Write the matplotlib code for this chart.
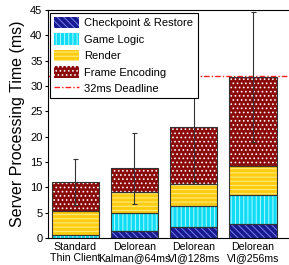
import matplotlib
matplotlib.use("Agg")
import matplotlib.pyplot as plt
import numpy as np
from matplotlib.patches import Patch
from matplotlib.lines import Line2D

plt.rcParams['font.family'] = ['Liberation Sans', 'DejaVu Sans']
plt.rcParams['hatch.linewidth'] = 0.7

categories = ["Standard\nThin Client", "Delorean\nKalman@64ms", "Delorean\nVI@128ms", "Delorean\nVI@256ms"]
checkpoint = [0.0, 1.4, 2.2, 2.7]
game_logic = [0.6, 3.6, 4.1, 5.8]
render = [4.8, 4.0, 4.3, 5.7]
frame_enc = [5.6, 4.8, 11.4, 17.6]
err = [4.5, 7.0, 10.9, 12.8]
deadline = 32

series = [("Checkpoint & Restore", checkpoint, "#1a1a90", "\\\\\\\\\\", (0.55, 0.6, 1.0, 0.8)),
          ("Game Logic", game_logic, "#10dcf5", "||||", (0.85, 1.0, 1.0, 0.8)),
          ("Render", render, "#ffcc10", "----", (1.0, 0.95, 0.6, 0.9)),
          ("Frame Encoding", frame_enc, "#8b0a0a", "....", (1.0, 1.0, 1.0, 0.95))]

W, H = 289, 265
fig = plt.figure(figsize=(W/100, H/100), dpi=100)
ax = fig.add_axes([48/W, 27/H, 250/W, 228/H])
x = np.arange(1, len(categories) + 1)
w = 0.8
bottom = np.zeros(len(x))
handles = []
for name, vals, col, hat, hcol in series:
    vals = np.array(vals)
    ax.bar(x, vals, w, bottom=bottom, color=col, edgecolor=hcol, hatch=hat, linewidth=0, zorder=2)
    ax.bar(x, vals, w, bottom=bottom, fill=False, edgecolor='#333333', linewidth=0.8, zorder=3)
    bottom = bottom + vals
    handles.append(Patch(facecolor=col, edgecolor=hcol, hatch=hat, linewidth=0))
totals = bottom
ax.errorbar(x, totals, yerr=err, fmt='none', ecolor='#333333', elinewidth=0.8, capsize=1.8, capthick=0.8, zorder=4)
ax.axhline(deadline, color='#ff2020', linestyle=(0, (4, 1.5, 1, 1.5)), linewidth=1.0, zorder=1)
handles.append(Line2D([], [], color='#ff2020', linestyle=(0, (4, 1.5, 1, 1.5)), linewidth=1.0))

ax.set_xlim(0.54, 4.76)
ax.set_ylim(0, 45)
ax.set_yticks(range(0, 46, 5))
ax.set_xticks(x)
ax.set_xticklabels(categories, fontsize=7.6, linespacing=1.1)
ax.tick_params(axis='y', labelsize=8, direction='out', length=2, pad=2)
ax.tick_params(axis='x', length=0, pad=3)
ax.set_ylabel("Server Processing Time (ms)", fontsize=11.5, labelpad=4)
for s in ax.spines.values():
    s.set_linewidth(0.8)

leg = ax.legend(handles, [s[0] for s in series] + ["32ms Deadline"], loc='upper left',
                bbox_to_anchor=(50/W, 1 - 100/H, 148/W, 87/H), bbox_transform=fig.transFigure,
                mode='expand', framealpha=1.0,
                fontsize=8, frameon=True, fancybox=False, edgecolor='black',
                handlelength=2.3, handleheight=1.2, labelspacing=0.45, borderpad=0.35,
                handletextpad=0.4, borderaxespad=0)
leg.get_frame().set_linewidth(0.8)
leg.set_zorder(10)

fig.savefig("out.png", dpi=100)
